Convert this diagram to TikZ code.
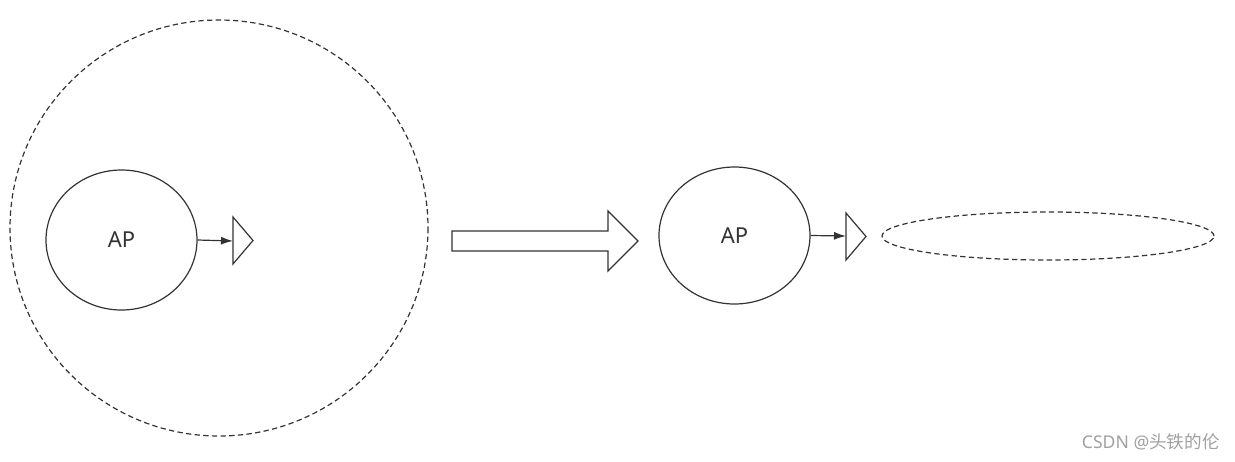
\documentclass[tikz,border=0pt]{standalone}
\usepackage{fontspec}
\setmainfont{Noto Sans}
\newfontfamily\cjk{Noto Sans CJK SC}
\usetikzlibrary{shapes.geometric,arrows.meta}
\definecolor{ink}{HTML}{333333}
\definecolor{wm}{HTML}{A0A0A0}
\tikzset{
  line/.style={draw=ink, line width=0.9pt},
  dashline/.style={line, dash pattern=on 4pt off 2.5pt},
  apnode/.style={line, ellipse, inner sep=0pt, minimum width=113.25pt, font=\fontsize{16.5}{19}\selectfont, text=ink},
  conn/.style={line, -{Latex[length=9pt,width=6pt]}},
}
\begin{document}
\begin{tikzpicture}[x=0.75pt,y=-0.75pt]
\useasboundingbox (0,0) rectangle (1235,461);
% big dashed circle
\draw[dashline] (219,228) ellipse [x radius=209, y radius=208];
% left AP
\node[apnode, minimum height=105pt] (ap1) at (121.5,240) {AP};
\draw[line] (233,217) -- (253,240.5) -- (233,264) -- cycle;
\coordinate (t1) at (233,241);
\draw[conn] (ap1.east) -- (t1);
% big arrow
\draw[line, fill=white] (452,231) -- (608,231) -- (608,211) -- (638,241) -- (608,271) -- (608,251) -- (452,251) -- cycle;
% right AP
\node[apnode, minimum height=102.75pt] (ap2) at (734.5,235.5) {AP};
\draw[line] (846,213) -- (866,236.5) -- (846,260) -- cycle;
\coordinate (t2) at (846,236);
\draw[conn] (ap2.east) -- (t2);
% dashed ellipse
\node[dashline, ellipse, inner sep=0pt, minimum width=249pt, minimum height=36pt] (e) at (1048,236) {};
% watermark
\node[text=wm, font=\fontsize{13.2}{15}\selectfont, anchor=east, inner sep=0pt] (w) at (1220,442) {CSDN @{\cjk 头铁的伦}};
\end{tikzpicture}
\end{document}
